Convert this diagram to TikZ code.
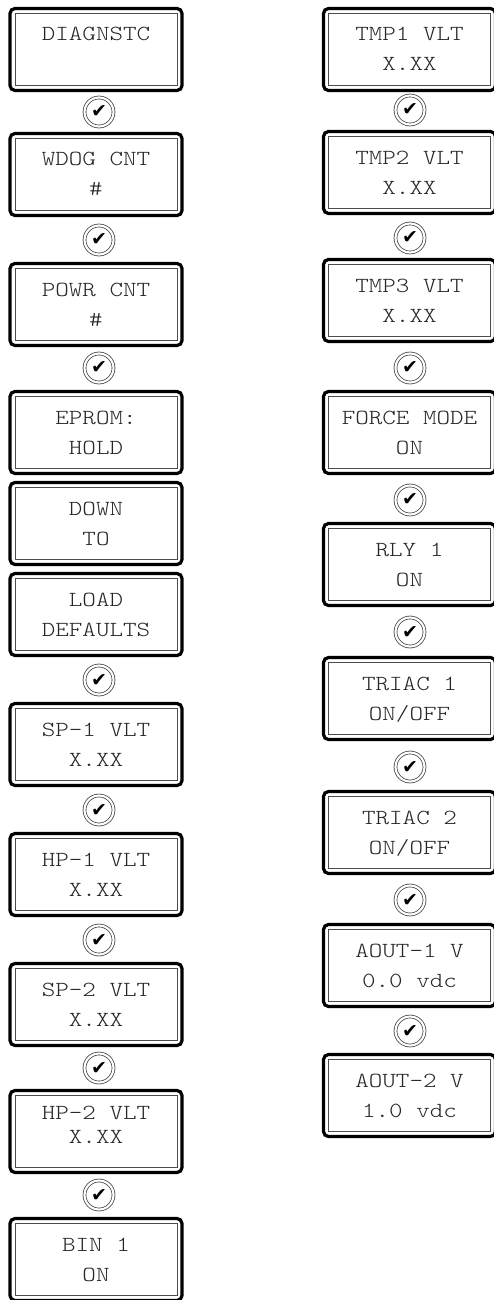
\documentclass[tikz,border=0pt]{standalone}
\usepackage{fontspec}
\newfontfamily\lcdfamily[FakeStretch=1.2]{lmmonolt10-regular.otf}
\newfontfamily\chkfamily{DejaVu Sans}
\newcommand\lcdl[1]{\raisebox{0pt}[13pt][0pt]{#1}}
\tikzset{
  lcd/.style={draw=black, line width=3.2pt, rounded corners=5pt, minimum width=172pt,
    minimum height=82pt, inner sep=0pt, outer sep=0pt},
  lcdinner/.style={draw=black!70, line width=0.8pt},
  lcdtext/.style={font=\lcdfamily\fontsize{21.5}{30}\selectfont, align=center,
    inner sep=0pt, text=black!85},
  chk/.style={circle, draw=black!80, line width=0.7pt, double, double distance=2.2pt,
    minimum size=29pt, inner sep=0pt, font=\chkfamily\fontsize{19}{19}\selectfont}
}
\newcommand\lcdpanel[5]{%
  \node[lcd] (#1) at (#2,#3+42.5) {};
  \draw[lcdinner] ([shift={(5pt,-5pt)}]#1.north west) rectangle ([shift={(-5pt,5pt)}]#1.south east);
  \node[lcdtext] (#1-t) at (#1.center) {\lcdl{#4}\\\lcdl{#5}};
}
\newcommand\chkmark[3]{\node[chk] (#1) at (#2,#3) {✔};}
\begin{document}
\begin{tikzpicture}[x=1pt,y=-1pt]
\useasboundingbox[fill=white] (0,0) rectangle (493,1300);
% left column
\lcdpanel{l1}{96}{7}{DIAGNSTC}{}
\chkmark{lc1}{99}{112}
\lcdpanel{l2}{96}{132}{WDOG CNT}{\#}
\chkmark{lc2}{99}{240}
\lcdpanel{l3}{96}{262}{POWR CNT}{\#}
\chkmark{lc3}{99}{368}
\lcdpanel{l4}{96}{390}{EPROM:}{HOLD}
\lcdpanel{l5}{96}{481}{DOWN}{TO}
\lcdpanel{l6}{96}{572}{LOAD}{DEFAULTS}
\chkmark{lc6}{99}{680}
\lcdpanel{l7}{96}{702}{SP-1 VLT}{X.XX}
\chkmark{lc7}{99}{810}
\lcdpanel{l8}{96}{832}{HP-1 VLT}{X.XX}
\chkmark{lc8}{99}{940}
\lcdpanel{l9}{96}{962}{SP-2 VLT}{X.XX}
\chkmark{lc9}{99}{1068}
% HP-2 panel with tighter text
\node[lcd] (l10) at (96,1089+42.5) {};
\draw[lcdinner] ([shift={(5pt,-5pt)}]l10.north west) rectangle ([shift={(-5pt,5pt)}]l10.south east);
\node[lcdtext, font=\lcdfamily\fontsize{21.5}{24}\selectfont] (l10-t) at (96,1089+36) {\lcdl{HP-2 VLT}\\\lcdl{X.XX}};
\chkmark{lc10}{99}{1195}
\lcdpanel{l11}{96}{1217}{BIN 1}{ON}
% right column
\lcdpanel{r1}{409.5}{7}{TMP1 VLT}{X.XX}
\chkmark{rc1}{410}{110}
\lcdpanel{r2}{409.5}{130}{TMP2 VLT}{X.XX}
\chkmark{rc2}{410}{238}
\lcdpanel{r3}{409.5}{258}{TMP3 VLT}{X.XX}
\chkmark{rc3}{410}{368}
\lcdpanel{r4}{409.5}{390}{FORCE MODE}{ON}
\chkmark{rc4}{410}{500}
\lcdpanel{r5}{409.5}{522}{RLY 1}{ON}
\chkmark{rc5}{410}{632}
\lcdpanel{r6}{409.5}{656}{TRIAC 1}{ON/OFF}
\chkmark{rc6}{410}{767}
\lcdpanel{r7}{409.5}{790}{TRIAC 2}{ON/OFF}
\chkmark{rc7}{410}{900}
\lcdpanel{r8}{409.5}{923}{AOUT-1 V}{0.0 vdc}
\chkmark{rc8}{410}{1031}
\lcdpanel{r9}{409.5}{1053}{AOUT-2 V}{1.0 vdc}
\end{tikzpicture}
\end{document}
